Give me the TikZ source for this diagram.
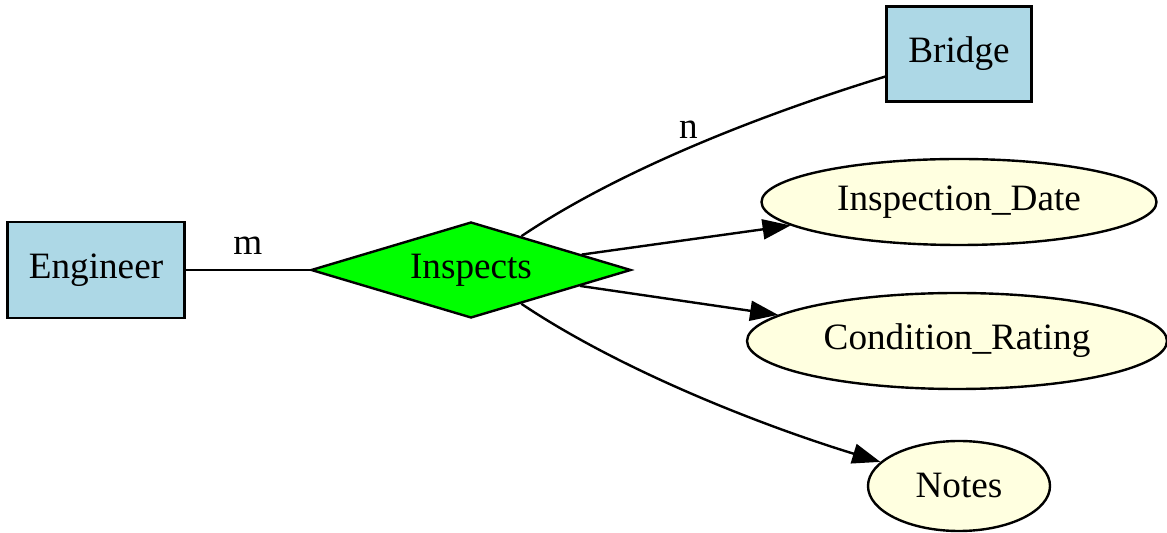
\documentclass[tikz,border=0pt]{standalone}
\usepackage{fontspec}
\setmainfont{Liberation Serif}
\usetikzlibrary{shapes,arrows,arrows.meta,positioning}

\definecolor{entblue}{HTML}{ADD8E6}
\definecolor{relgreen}{HTML}{00FF00}
\definecolor{attryellow}{HTML}{FFFFE0}

\tikzset{
	entity/.style={shape=rectangle, draw, line width=1.2pt, fill=entblue, inner sep=0pt},
	relation/.style={shape=diamond, draw, line width=1.2pt, fill=relgreen, inner sep=0pt, aspect=3.333, minimum width=160pt, minimum height=48pt},
	attribute/.style={shape=ellipse, draw, line width=1.2pt, fill=attryellow, inner sep=0pt, minimum height=43pt},
	card/.style={inner sep=3pt},
	link/.style={line width=1.2pt},
	attr/.style={line width=1.2pt, -{Triangle[length=14pt,width=10pt]}}
}

\begin{document}
\begin{tikzpicture}[x=0.5pt, y=-0.5pt, font=\fontsize{18.6}{22}\selectfont]
	\useasboundingbox (0,0) rectangle (1167,533);

	\node[entity, minimum width=88.5pt, minimum height=48pt] (eng) at (96,270) {Engineer};
	\node[relation] (ins) at (471,270) {Inspects};
	\node[entity, minimum width=72.5pt, minimum height=47.5pt] (bri) at (959,54) {Bridge};
	\node[attribute, minimum width=197.5pt] (date) at (959,202) {Inspection\_Date};
	\node[attribute, minimum width=210pt, minimum height=48pt] (cond) at (957,341) {Condition\_Rating};
	\node[attribute, minimum width=91pt, minimum height=45pt] (notes) at (959,486) {Notes};

	% cardinalities
	\path [link]
	(eng) edge node[card, above=4pt] (m) {m} (ins);
	\draw [link] (ins) .. controls (620,170) and (760,115) .. (bri)
		node[card, pos=0.5, above, xshift=-2.5pt] (n) {n};

	% attributes of the relationship
	\path [attr]
	(ins) edge (date)
	(ins) edge (cond);
	\draw [attr] (ins) .. controls (620,370) and (760,425) .. (notes);
\end{tikzpicture}
\end{document}
